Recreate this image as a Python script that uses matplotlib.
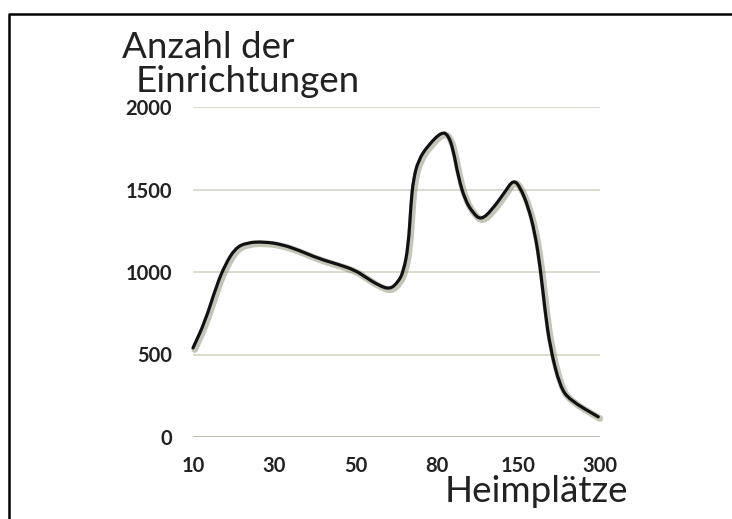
import numpy as np
import matplotlib.pyplot as plt
import matplotlib.patheffects as pe
from matplotlib.lines import Line2D
from matplotlib.path import Path
from matplotlib.patches import PathPatch

# x categories (Heimplätze) and y values (Anzahl der Einrichtungen)
tick_labels = ["10", "30", "50", "80", "150", "300"]
y_ticks = [0, 500, 1000, 1500, 2000]

# curve: position along the category axis, value
pos = [0.0, 0.147, 0.291, 0.393, 0.516, 0.660, 0.885, 1.090, 1.294, 1.539,
       1.785, 1.990, 2.113, 2.276, 2.420, 2.522, 2.584, 2.645, 2.678, 2.706,
       2.768, 2.891, 3.055, 3.136, 3.198, 3.259, 3.342, 3.444, 3.538, 3.670,
       3.833, 3.935, 4.017, 4.119, 4.201, 4.263, 4.324, 4.386, 4.509, 4.631,
       4.979]
count = [540, 698, 920, 1042, 1143, 1179, 1183, 1167, 1133, 1082,
         1046, 1011, 971, 920, 894, 941, 1001, 1153, 1416, 1557,
         1679, 1769, 1850, 1830, 1739, 1577, 1436, 1355, 1315, 1375,
         1486, 1560, 1517, 1395, 1234, 1040, 769, 546, 304, 223,
         122]

font = "Lato"
txt = "#222222"

fig = plt.figure(figsize=(7.32, 5.19), dpi=100)
ax = fig.add_axes([193/732, 1 - 437/519, 407/732, 330/519])

for y in y_ticks[1:]:
    ax.axhline(y, color="#d8d8cc", lw=1.3, zorder=1)
ax.axhline(0, color="#a4a496", lw=1.8, zorder=1)

# smooth line: read points as quadratic control points, midpoints as anchors
pts = np.column_stack([pos, count])
mids = (pts[:-1] + pts[1:]) / 2
verts = [pts[0], mids[0]]
codes = [Path.MOVETO, Path.LINETO]
for i in range(1, len(pts) - 1):
    verts += [pts[i], mids[i]]
    codes += [Path.CURVE3, Path.CURVE3]
verts.append(pts[-1])
codes.append(Path.LINETO)
curve = PathPatch(Path(verts, codes), fill=False, edgecolor="#111111", lw=2.3,
                  joinstyle="round", capstyle="round", clip_on=False, zorder=3,
                  path_effects=[pe.SimpleLineShadow(offset=(1.2, -1.2), shadow_color="#8a8a70",
                                                    alpha=0.5, linewidth=4.8),
                                pe.Normal()])
ax.add_patch(curve)

ax.set_xlim(0, 5)
ax.set_ylim(0, 2000)
ax.set_xticks(range(len(tick_labels)))
ax.set_xticklabels(tick_labels, fontfamily=font, fontweight="bold")
ax.set_yticks(y_ticks)
ax.set_yticklabels([str(v) for v in y_ticks], fontfamily=font, fontweight="bold")
ax.tick_params(length=0, labelsize=14.5, labelcolor=txt)
ax.tick_params(axis="y", pad=15)
ax.tick_params(axis="x", pad=14)
for s in ax.spines.values():
    s.set_visible(False)

fig.text(122/732, 1 - 58/519, "Anzahl der", family=font, weight="normal",
         fontsize=26.5, color=txt, va="baseline", ha="left")
fig.text(136/732, 1 - 92/519, "Einrichtungen", family=font, weight="normal",
         fontsize=26.5, color=txt, va="baseline", ha="left")
fig.text(445/732, 1 - 502/519, "Heimplätze", family=font, weight="normal",
         fontsize=26.5, color=txt, va="baseline", ha="left")

# frame lines at top and left
x0 = 8.7 / 732
y0 = 1 - 14 / 519
fig.add_artist(Line2D([x0, x0, 1], [0, y0, y0], transform=fig.transFigure,
                      color="black", lw=1.8))

fig.savefig("out.png", dpi=100)
